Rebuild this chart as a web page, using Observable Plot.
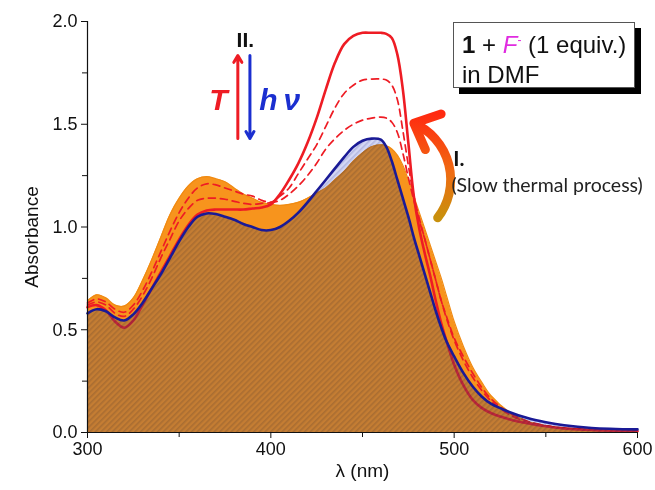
<!DOCTYPE html>
<html><head><meta charset="utf-8">
<script src="https://cdn.jsdelivr.net/npm/d3@7"></script>
<script src="https://cdn.jsdelivr.net/npm/@observablehq/plot@0.6"></script>
<style>
body{margin:0;background:#fff;}
#wrap{position:relative;width:655px;height:490px;}
#box{position:absolute;left:453px;top:22px;width:182px;height:66px;border:1px solid #555;background:#fff;box-shadow:6px 6px 0 #000;box-sizing:border-box;padding:9px 0 0 8px;font-family:"Liberation Sans",Arial,sans-serif;font-size:24px;line-height:25px;color:#111;white-space:nowrap;}
</style></head>
<body>
<div id="wrap">
<svg width="0" height="0" style="position:absolute">
 <defs>
  <pattern id="blueHatch" patternUnits="userSpaceOnUse" width="4" height="4" patternTransform="rotate(45)">
   <rect width="4" height="4" fill="#D4D7F4"/>
   <rect width="1.6" height="4" fill="#B4B8E2"/>
  </pattern>
  <linearGradient id="arrowGrad" x1="0" y1="1" x2="0" y2="0">
   <stop offset="0" stop-color="#C8900C"/>
   <stop offset="0.45" stop-color="#F06A12"/>
   <stop offset="1" stop-color="#FF2A10"/>
  </linearGradient>
 </defs>
</svg>
<div id="chart"></div>
<div id="box"><b>1</b> + <i style="color:#E02BE0">F</i><span style="position:relative;top:-9px;font-size:12px;color:#E02BE0">-</span> (1 equiv.)<br>in DMF</div>
</div>
<script>
const wavelength = [300,305,310,315,320,325,330,335,340,345,350,355,360,365,370,375,380,385,390,395,400,405,410,415,420,425,430,435,440,445,450,455,460,463,466,469,472,475,478,481,484,487,490,493,496,500,505,510,515,520,530,540,550,560,575,600];
const orangeSpec = [0.64,0.67,0.655,0.62,0.615,0.655,0.74,0.84,0.95,1.06,1.14,1.20,1.235,1.245,1.235,1.22,1.19,1.16,1.14,1.12,1.11,1.105,1.11,1.12,1.14,1.165,1.19,1.23,1.27,1.32,1.36,1.39,1.40,1.395,1.38,1.35,1.30,1.23,1.15,1.07,0.99,0.91,0.83,0.75,0.66,0.54,0.42,0.32,0.245,0.18,0.10,0.055,0.032,0.02,0.013,0.008];
const blueSpec = [0.58,0.60,0.59,0.56,0.545,0.575,0.63,0.70,0.77,0.85,0.93,1.00,1.05,1.066,1.063,1.05,1.035,1.015,1.0,0.985,0.985,1.0,1.03,1.07,1.12,1.175,1.23,1.285,1.34,1.39,1.42,1.43,1.425,1.39,1.32,1.23,1.14,1.05,0.95,0.86,0.77,0.68,0.59,0.51,0.44,0.37,0.29,0.225,0.175,0.14,0.10,0.07,0.05,0.035,0.022,0.015];
const redSpec = [0.61,0.62,0.595,0.54,0.51,0.545,0.62,0.70,0.78,0.86,0.94,1.01,1.06,1.08,1.085,1.085,1.085,1.085,1.09,1.095,1.11,1.16,1.23,1.31,1.41,1.53,1.67,1.80,1.89,1.93,1.945,1.945,1.945,1.94,1.92,1.84,1.67,1.41,1.15,0.99,0.87,0.76,0.64,0.53,0.44,0.33,0.23,0.16,0.12,0.095,0.065,0.045,0.03,0.02,0.012,0.006];
const dashed1Spec = [0.63,0.65,0.635,0.60,0.585,0.62,0.69,0.78,0.88,0.98,1.07,1.14,1.19,1.21,1.205,1.19,1.175,1.16,1.15,1.13,1.12,1.13,1.16,1.20,1.25,1.31,1.38,1.43,1.47,1.50,1.52,1.53,1.535,1.53,1.51,1.46,1.36,1.24,1.13,1.03,0.94,0.84,0.74,0.64,0.56,0.46,0.37,0.29,0.22,0.165,0.095,0.055,0.033,0.02,0.012,0.007];
const dashed2Spec = [0.62,0.635,0.62,0.58,0.565,0.60,0.665,0.75,0.85,0.94,1.03,1.09,1.13,1.14,1.14,1.135,1.125,1.115,1.11,1.115,1.12,1.15,1.19,1.26,1.33,1.40,1.49,1.58,1.65,1.69,1.715,1.72,1.72,1.715,1.69,1.62,1.47,1.30,1.15,1.04,0.94,0.84,0.74,0.64,0.55,0.45,0.35,0.27,0.205,0.155,0.088,0.05,0.032,0.02,0.012,0.007];

const xTicks = [300,400,500,600];
const xMinorTicks = [350,450,550];
const yTicks = [0,0.5,1.0,1.5,2.0];
const yMinorTicks = [0.25,0.75,1.25,1.75];

const rows = wavelength.map((w,i)=>({w, o:orangeSpec[i], b:blueSpec[i], r:redSpec[i], d1:dashed1Spec[i], d2:dashed2Spec[i]}));

const arrowsStraight = [
  {x:382.0, y1:1.431, y2:1.835, c:"#EE1C24"},
  {x:388.6, y1:1.835, y2:1.431, c:"#1B2FD0"}
];
const curvedArrow = [{x1:491.0, y1:1.045, x2:478.0, y2:1.505}];
const labels = [
  {x:386.1, y:1.908, t:"II.", size:21, weight:"bold", style:"normal", fill:"#111", anchor:"middle", font:"Liberation Sans"},
  {x:371.4, y:1.616, t:"T", size:30, weight:"bold", style:"italic", fill:"#EE1C24", anchor:"middle", font:"Liberation Sans"},
  {x:393.7, y:1.616, t:"h\u2009\u03BD", size:30, weight:"bold", style:"italic", fill:"#1B2FD0", anchor:"start", font:"Liberation Sans"},
  {x:499.5, y:1.330, t:"I.", size:21, weight:"bold", style:"normal", fill:"#111", anchor:"start", font:"Lato"},
  {x:498.5, y:1.200, t:"(Slow thermal process)", size:19.5, weight:"normal", style:"normal", fill:"#222", anchor:"start", font:"Lato"}
];

const textMarks = labels.map(l => Plot.text([l], {x:"x", y:"y", text:"t", fontSize:l.size, fontWeight:l.weight, fontStyle:l.style, fill:l.fill, textAnchor:l.anchor, fontFamily:l.font, lineAnchor:"middle"}));

const chart = Plot.plot({
  width:655, height:490,
  marginLeft:87, marginRight:18, marginTop:21, marginBottom:58,
  style:{fontFamily:"Liberation Sans, Arial, sans-serif", fontSize:"18px", color:"#111", background:"#fff"},
  x:{domain:[300,600]},
  y:{domain:[0,2]},
  marks:[
    Plot.areaY(rows, {x:"w", y:"o", fill:"#F7941D", curve:"catmull-rom"}),
    Plot.lineY(rows, {x:"w", y:"o", stroke:"#F08A12", strokeWidth:1.2, curve:"catmull-rom"}),
    Plot.lineY(rows, {x:"w", y:"d1", stroke:"#EE1C24", strokeWidth:1.7, strokeDasharray:"7,5", curve:"catmull-rom"}),
    Plot.lineY(rows, {x:"w", y:"d2", stroke:"#EE1C24", strokeWidth:1.7, strokeDasharray:"7,5", curve:"catmull-rom"}),
    Plot.lineY(rows, {x:"w", y:"r", stroke:"#EE1C24", strokeWidth:2.6, curve:"catmull-rom"}),
    Plot.areaY(rows, {x:"w", y:"b", fill:"url(#blueHatch)", mixBlendMode:"multiply", curve:"catmull-rom"}),
    Plot.areaY(rows, {x:"w", y:d=>Math.min(d.o,d.b), fill:"#9682BE", fillOpacity:0.15, curve:"catmull-rom"}),
    Plot.lineY(rows, {x:"w", y:"b", stroke:"#1A1A96", strokeWidth:2.6, curve:"catmull-rom"}),
    Plot.ruleY([0], {stroke:"#111", strokeWidth:1.2}),
    Plot.ruleX([300], {stroke:"#111", strokeWidth:1.2}),
    Plot.axisX({ticks:xTicks, tickSize:6, tickPadding:4, tickFormat:d=>String(d), label:null, stroke:"#111"}),
    Plot.axisX({ticks:xMinorTicks, tickSize:5, tickFormat:()=>"", label:null, stroke:"#111"}),
    Plot.axisY({ticks:yTicks, tickSize:6, tickPadding:4, tickFormat:d=>d.toFixed(1), label:null, stroke:"#111"}),
    Plot.axisY({ticks:yMinorTicks, tickSize:5, tickFormat:()=>"", label:null, stroke:"#111"}),
    Plot.text(["Absorbance"], {frameAnchor:"left", dx:-56, dy:10, rotate:-90, text:d=>d, fontSize:19, textAnchor:"middle"}),
    Plot.text(["\u03BB (nm)"], {frameAnchor:"bottom", dy:38, text:d=>d, fontSize:19, textAnchor:"middle", lineAnchor:"middle"}),
    Plot.arrow(arrowsStraight, {x1:"x", x2:"x", y1:"y1", y2:"y2", stroke:"c", strokeWidth:3, headLength:4, headAngle:60}),
    Plot.arrow(curvedArrow, {x1:"x1", y1:"y1", x2:"x2", y2:"y2", bend:-52, stroke:"url(#arrowGrad)", strokeWidth:9, headLength:4.8, headAngle:85}),
    ...textMarks
  ]
});
document.getElementById("chart").appendChild(chart);
d3.select(chart).selectAll('[fill="url(#blueHatch)"]').style("mix-blend-mode","multiply");
</script>
</body></html>
